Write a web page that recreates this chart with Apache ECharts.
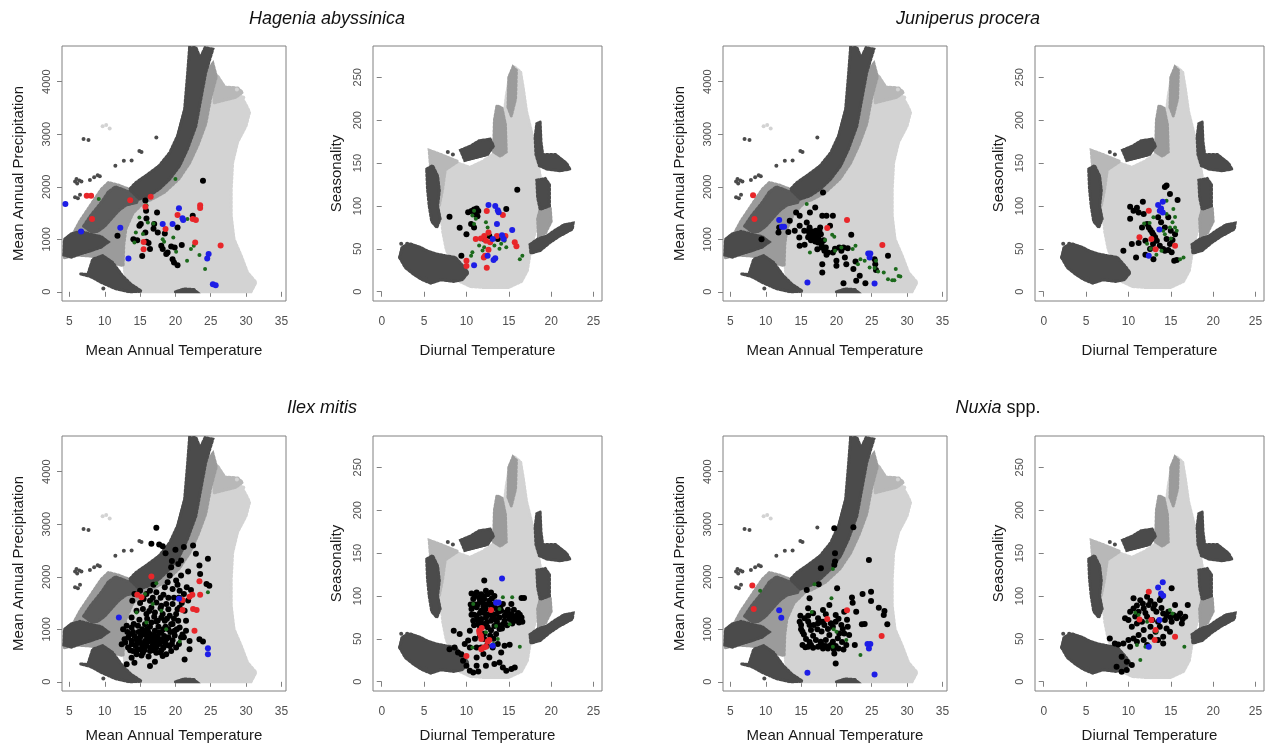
<!DOCTYPE html>
<html><head><meta charset="utf-8">
<script src="https://cdn.jsdelivr.net/npm/echarts@6/dist/echarts.min.js"></script>
<style>html,body{margin:0;padding:0;background:#fff}#c{width:1266px;height:746px}</style>
</head><body><div id="c"></div>
<script>
// ---------- tick labels ----------
const matTicks = [5,10,15,20,25,30,35];
const mapTicks = [0,1000,2000,3000,4000];
const dtrTicks = [0,5,10,15,20,25];
const seasTicks = [0,50,100,150,200,250];

// ---------- background cloud (MAT vs MAP) ----------
const bgMatLight = [[12.8,400],[13.3,0],[30.7,0],[31.4,180],[30.2,370],[29.3,690],[28.3,1000],[27.9,1450],[27.9,1950],[28.1,2460],[28.8,2850],[30.0,3160],[30.5,3420],[30.0,3560],[29.0,3800],[27.0,3880],[26.0,4100],[24.5,4300],[23.0,3000],[21.5,2340],[19.6,2020],[16.8,1890],[14.4,1770],[13.0,1390],[12.5,940]];
const bgMatMedStrip = [[15.0,1800],[17.0,1900],[19.0,2100],[20.6,2400],[21.7,2720],[22.9,3160],[23.6,3670],[24.3,4180],[25.3,4350],[25.8,4100],[25.0,3700],[24.3,3200],[23.2,2800],[22.0,2450],[20.5,2150],[18.5,1900],[16.5,1750],[15.2,1700]];
const bgMatMedTopRight = [[25.5,3600],[27.0,3650],[28.5,3700],[29.5,3800],[28.8,3880],[27.0,3900],[26.0,4100],[25.3,4000]];
const bgMatMedLeft = [[4.3,650],[4.3,950],[5.5,1100],[6.5,1350],[7.5,1550],[8.5,1750],[9.5,1950],[10.5,2080],[12.0,2030],[13.5,1950],[15.0,1870],[15.5,1700],[14.0,1500],[13.0,1200],[12.7,900],[12.6,500],[11.0,550],[9.5,640],[8.0,680],[6.0,700]];
const bgMatDarkLowLeft = [[4.2,700],[4.3,1000],[5.2,1100],[6.5,1150],[8.0,1100],[9.5,1050],[10.5,950],[9.5,850],[8.0,780],[6.5,720],[5.3,660]];
const bgMatDarkDiag = [[7.0,1250],[8.0,1450],[9.5,1700],[10.5,1900],[11.5,2000],[12.5,1950],[13.5,1900],[15.0,1850],[14.5,1700],[13.0,1650],[12.0,1550],[11.0,1400],[10.0,1250],[9.0,1150],[8.0,1150]];
const bgMatDarkArch = [[22.0,4650],[21.7,4115],[21.3,3480],[20.3,2970],[19.2,2650],[17.7,2400],[15.8,2210],[14.4,2080],[13.5,1950],[14.9,1765],[16.3,1830],[17.7,1956],[19.2,2146],[20.6,2400],[21.7,2718],[22.9,3160],[23.6,3670],[24.3,4178],[25.3,4620],[24.2,4650],[23.5,4450],[22.9,4650]];
const bgMatDarkWedge = [[6.6,340],[7.6,330],[8.3,620],[9.7,690],[11.1,560],[12.5,305],[13.7,146],[15.2,10],[13.5,0],[11.5,60],[9.5,180],[8.0,290]];
const bgMatDarkBottom = [[20.0,0],[23.0,0],[22.6,45],[21.2,55]];
const bgMatDarkDots = [[7.0,2908],[7.7,2890],[12.7,2495],[14.9,2680],[15.2,2660],[17.3,2940],[5.8,2100],[6.1,2060],[6.4,2120],[6.7,2100],[6.0,2150],[7.9,2130],[8.5,2180],[9.0,2220],[9.3,2200],[5.8,1800],[6.2,1780],[6.5,1850],[9.8,63],[11.5,2400],[13.8,2500]];
const bgMatLightDots = [[9.7,3150],[10.2,3175],[10.7,3110],[28.7,3850],[29.6,3700]];

// ---------- background cloud (Diurnal temperature vs Seasonality) ----------
const bgDtrLight = [[9.2,12],[10.5,6],[12,5],[15,5],[16.5,12],[17.2,25],[17.6,50],[18.2,73],[18.6,104],[18.7,135],[18.3,160],[17.8,182],[17.1,210],[16.7,238],[16.4,256],[15.7,262],[15.1,252],[14.7,228],[14.3,195],[14.0,165],[13.1,160],[11.9,152],[10.4,145],[9.0,150],[8.0,155],[6.8,155],[5.8,162],[6.2,143],[6.6,118],[7.0,90],[7.2,70],[7.6,50],[8.4,28]];
const bgDtrMedSpike = [[13.2,163],[13.3,200],[13.6,217],[14.2,214],[14.6,195],[14.7,163],[14.0,158]];
const bgDtrMedTop = [[14.9,215],[15.0,250],[15.5,262],[15.9,258],[15.8,225],[15.3,205]];
const bgDtrMedRight = [[18.5,65],[19.3,68],[20.0,82],[19.9,97],[18.8,100],[18.4,85]];
const bgDtrMedLeft = [[5.6,165],[7.0,160],[9.0,152],[7.5,142],[7.2,120],[6.8,100],[6.2,110],[5.8,140]];
const bgDtrDarkFan = [[2.1,40],[2.4,52],[3.3,56],[4.5,52],[5.5,47],[6.5,44],[7.5,42],[8.7,40],[9.6,30],[10.2,22],[9.5,14],[8.5,12],[7.0,14],[5.8,10],[4.8,14],[3.8,20],[2.8,28]];
const bgDtrDarkLeft = [[5.3,143],[6.0,147],[6.6,135],[6.8,118],[6.6,100],[6.9,85],[6.5,75],[5.9,82],[5.6,100],[5.4,120]];
const bgDtrDarkTopLeft = [[9.3,165],[10.5,170],[11.5,176],[12.8,178],[13.2,170],[12.5,160],[11.0,156],[9.8,153]];
const bgDtrDarkTopRight = [[18.3,196],[18.7,198],[18.8,175],[19.0,160],[20.5,160],[21.8,150],[22.2,143],[21.0,141],[19.5,143],[18.6,147],[18.2,160],[18.1,180]];
const bgDtrDarkRightMid = [[18.3,130],[19.3,132],[19.8,125],[19.8,100],[18.7,96],[18.4,110]];
const bgDtrDarkRightLow = [[17.5,55],[18.5,62],[19.5,65],[20.5,72],[21.5,78],[22.6,80],[22.5,73],[21.0,65],[19.8,57],[18.7,48],[17.6,45]];
const bgDtrDarkDots = [[2.3,56],[3.0,56],[2.2,40],[5.2,15],[8.4,160],[7.8,163]];

// ---------- Hagenia abyssinica ----------
const hagMatBlack = [[15.75,1740],[17.4,1510],[15.85,1543],[15.9,1397],[14.9,1257],[11.8,1067],[14.05,1003],[14.6,984],[15.1,1290],[15.75,1130],[15.9,952],[16.2,927],[16.4,813],[17.5,1130],[17,1290],[18,876],[18.2,813],[18.7,718],[19.4,864],[19.9,845],[19.6,622],[19.8,559],[20.3,508],[20.3,1225],[20.9,889],[22.45,1448],[15.3,680],[23.9,2115],[18.9,750],[16.9,1200],[18.5,1110]];
const hagMatRed = [[7.45,1830],[8.07,1830],[8.2,1385],[13.6,1745],[16.5,1810],[15.75,1620],[15.5,950],[15.5,810],[18.6,1195],[20.3,1460],[22.45,1385],[22.9,1365],[23.5,1650],[23.5,1595],[22.8,940],[26.4,883]];
const hagMatBlue = [[4.43,1670],[6.65,1150],[12.2,1220],[13.35,635],[18.2,1290],[19.6,1290],[20.5,1590],[21,1400],[21.1,1365],[24.7,718],[24.5,635],[25.3,146],[25.7,127]];
const hagMatGreen = [[9.15,1765],[14.9,1416],[15.9,1650],[16.1,1320],[16.9,1300],[14.4,1130],[15.4,1100],[20,2146],[18.2,1003],[19.7,1035],[20.1,762],[21.65,590],[22.2,813],[22.6,876],[23.4,700],[24.2,432],[18.4,952],[21.7,1384],[14.2,940]];
const hagDtrBlack = [[16,119],[8,87.5],[9.2,74.7],[10,67],[9.4,42],[10.2,92.6],[10.55,79],[10.9,75],[10.6,94],[10.9,96],[11.2,97],[11.4,94],[14.7,96.5],[13.7,61.5],[12.7,65],[12.1,61.5],[11.0,90],[11.3,88]];
const hagDtrRed = [[12.4,94],[14.3,89.5],[11.1,61.5],[11.7,62],[12.1,65],[12.3,59.5],[12.6,69],[12.8,57.6],[13.6,65],[14.6,65],[15.7,57.6],[15.9,53],[12.6,49],[12.2,42],[12.05,40],[10,36],[10,30],[12.4,28]];
const hagDtrBlue = [[12.6,101],[13.4,100],[13.7,95],[13.8,92.6],[13.6,79],[14.2,66],[14.4,61.5],[15.4,72],[13.1,61.5],[13.4,39],[13.2,37],[10.9,31],[12.5,42]];
const hagDtrGreen = [[12.3,81],[12.5,75],[12.5,67],[10.9,94.5],[10.7,89],[11.1,85],[10.9,79],[10.55,42],[10.7,46],[11.5,54],[11.9,48],[12.7,57.6],[13.3,54],[13.9,50],[14.1,56],[14.7,52],[14.5,59.5],[16.3,38],[16.6,42],[12.1,52]];

// ---------- Juniperus procera ----------
const junMatBlack = [[11.9,1225],[11.8,1130],[13.4,1352],[14.3,1511],[14.8,1448],[14.8,1257],[14.75,1035],[14.8,876],[15.45,1162],[15.8,1321],[16.2,1225],[16.2,1098],[16.5,1048],[16.7,1098],[16.8,1003],[17,1606],[17.1,1162],[17.2,1048],[17.4,940],[17.7,1225],[17.8,1098],[17.9,845],[18,1448],[18.1,1892],[18.3,781],[18.5,845],[18.6,705],[18.8,750],[18,527],[18,368],[18.6,1448],[19.1,1257],[19.5,1448],[19.5,750],[20,591],[20,495],[20.4,845],[20.7,781],[21,845],[21.2,654],[21.4,527],[21,165],[22.1,1086],[22.4,432],[22.7,578],[22.8,210],[23.3,305],[24.1,165],[25.4,622],[25.5,527],[25.6,413],[27.3,686],[15.5,895],[17.9,908],[17.3,810],[14.1,1162],[16.25,1511],[16.4,980],[16.9,1060],[17.5,1000],[16.0,1040],[17.0,960],[9.4,1003],[13.2,1140],[19.8,820],[21.6,830],[16.6,1150],[17.3,1110],[16.0,1160],[16.9,1010],[17.6,1160],[18.2,980]];
const junMatRed = [[8.2,1840],[8.4,1385],[18.7,1213],[21.5,1365],[26.5,889]];
const junMatBlue = [[11.9,1365],[12.3,1238],[12.6,1238],[15.9,178],[24.5,730],[24.8,730],[24.7,654],[25.4,159]];
const junMatGreen = [[15.8,1670],[16.25,750],[18.4,985],[19.4,1086],[19.7,1048],[19.8,781],[20.7,845],[22.3,813],[22.7,876],[23.05,527],[24,591],[24.7,464],[25.4,451],[25.9,387],[26.7,368],[27.3,241],[27.9,222],[28.2,222],[28.4,432],[29.05,292],[28.8,300],[23.4,622],[25.6,591]];
const junDtrBlack = [[14.3,122],[14.5,124],[14.9,114],[15.8,107],[11.7,105],[10.2,99],[10.6,94.5],[11,98],[11.2,92.5],[10.2,85],[11.8,90.6],[12.2,79],[12.4,75],[12.6,72],[12.8,69],[12.95,66.5],[13.15,63.4],[13.35,59.5],[12.9,55.6],[13.7,53.7],[14.1,49.8],[14.3,47.8],[14.7,48.6],[15.1,45.9],[15.4,36.2],[15.7,37],[12.55,49.8],[9.4,47.8],[10.9,40],[12,43],[12.95,38],[12,59.5],[11.2,56.8],[14.5,61.4],[14.9,55.6],[14.3,75],[13.85,81],[13.5,86.7],[14.7,86.7],[15,71],[15.5,67],[15.2,60.3],[10.4,55.6],[11.6,75]];
const junDtrRed = [[12.4,94.5],[11.3,63.4],[12.7,61.4],[13.2,49.4],[15.5,53.7]];
const junDtrBlue = [[13.5,101],[14.05,105],[13.7,94.5],[14.05,92.5],[13.85,97],[13.65,72.7],[12.4,42]];
const junDtrGreen = [[14.5,106],[15.3,96.4],[12.95,86.7],[14.5,90.6],[11.85,79.7],[12.5,80],[14.1,71],[14.9,75],[15.2,81],[15.5,75],[15.7,71],[14.3,67],[15.0,62],[13.9,47.8],[13.3,43],[12.2,56],[16.5,40],[16.1,38],[12.6,50],[15.5,87]];

// ---------- Ilex mitis ----------
const ilexMatBlack = [[17.3,2935],[16.6,2630],[17.7,2615],[18.2,2580],[20,2514],[21.2,2565],[22.5,2597],[22.9,2437],[23.4,2214],[24.6,2341],[23.5,2054],[24.4,1863],[24.8,1830],[20.4,2245],[20.8,2310],[19.4,2182],[19.2,2022],[20.8,2022],[20.1,1927],[18.9,1895],[18.5,1800],[19.6,1767],[20.6,1735],[21.2,1672],[18.3,1659],[17.3,1704],[16.4,1735],[15.9,1672],[15.5,1576],[15,1735],[14.2,1672],[13.9,1544],[16.4,1544],[17.3,1512],[18,1448],[18.7,1480],[19.6,1480],[20.6,1416],[16.6,1416],[15.4,1384],[14.5,1352],[13.8,1225],[15.9,1289],[17.1,1320],[18.2,1289],[19.2,1257],[20.1,1289],[21.3,1352],[21.5,1161],[20.4,1161],[19.4,1097],[18.5,1161],[17.5,1161],[16.6,1129],[15.7,1097],[14.7,1065],[13.8,1034],[13.1,1065],[12.6,1002],[20.6,1034],[21.5,970],[19.9,970],[19,1002],[18,938],[17.1,970],[16.2,938],[15.2,906],[14.2,874],[13.3,842],[13.8,715],[14.7,746],[15.7,778],[16.6,810],[17.5,791],[18.7,810],[19.6,791],[20.8,842],[22,778],[23.4,810],[23.9,766],[22,619],[21.3,427],[18.2,491],[17.3,555],[16.4,587],[15.4,555],[14.5,523],[13.8,459],[13.1,332],[14.2,364],[16.4,300],[17.1,383],[18.7,523],[19.4,587],[20.1,651],[17.3,651],[15.9,683],[15,619],[14,587],[13.3,651],[12.4,715],[12.8,810],[14.8,820],[15.3,700],[16.1,760],[16.8,700],[17.8,720],[18.3,650],[15.6,640],[14.4,680],[16.2,850],[17.0,880],[18.4,870],[19.2,680],[20.5,720],[21.0,900],[16.0,1000],[17.6,1050],[18.6,1050],[19.8,1200],[20.9,1500],[19.0,1600],[17.9,1600],[16.9,1850],[20.3,1850],[21.8,2100],[22.2,1750],[13.5,900],[14.0,950],[14.5,800],[15.0,850],[15.5,900],[16.0,850],[16.5,900],[17.0,820],[17.5,870],[18.0,800],[18.5,750],[19.0,850],[13.8,780],[14.3,700],[15.0,750],[15.8,720],[16.5,650],[17.2,720],[18.0,600],[18.8,700],[19.5,720],[14.6,600],[15.6,600],[16.9,600],[17.9,560],[15.2,500],[16.2,480],[13.6,600],[14.1,1100],[15.3,1000],[16.4,1050],[17.3,1150],[18.8,1200],[19.6,1100],[20.2,1000],[21.2,850],[19.9,880],[13.2,950],[12.9,750],[20.5,1600],[21.6,1800],[19.5,2300],[18.6,2450],[14.8,950],[15.8,940],[16.8,760],[17.7,940],[18.3,1000],[19.3,950],[14.9,1180],[16.0,1200],[17.0,1240],[18.0,1220],[19.0,1380],[17.9,1400],[16.3,1350],[15.0,1500],[16.8,1600],[19.8,1600],[21.8,1550],[20.3,1380]];
const ilexMatRed = [[16.6,2003],[14.6,1659],[15.2,1608],[21,1557],[22,1620],[22.4,1659],[23.4,1914],[23.5,1659],[21,1365],[22.5,1384],[23,1365],[22.7,970]];
const ilexMatBlue = [[12,1225],[20.5,1582],[24.6,638],[24.6,523]];
const ilexMatGreen = [[15.7,1672],[17.3,1876],[14.5,1320],[15.9,1129],[16.8,1480],[18,1352],[18.7,1002],[24.6,1704],[20.6,766]];
const ilexDtrBlack = [[10.6,103],[11.2,104],[11.75,102],[12.3,106],[12.9,104],[13.3,100],[10.8,96.4],[11.6,94.5],[12.1,96.4],[12.7,94.5],[13.5,92.5],[14.3,90.6],[15.3,90.6],[16.5,97.6],[10.6,84.8],[11.2,86.7],[11.75,82.8],[12.3,84.8],[12.9,80.9],[13.5,78.9],[14.1,82.8],[14.7,80.9],[15.3,78.9],[15.9,77],[16.5,75],[13.9,75],[14.5,71],[15.1,73],[15.7,71],[16.2,69],[11.2,77],[11.75,73],[12.3,75],[12.9,71],[10.8,71],[11.4,67],[12,65],[12.5,63.4],[13.3,65],[13.9,61.4],[14.3,67],[8.5,59.5],[9.2,55.6],[10.4,59.5],[9.8,44],[10.4,40],[11.2,40],[11.75,40],[12.4,42],[13.1,40],[13.7,44],[14.5,42],[15.1,43],[12.1,49.8],[11.6,53.7],[12.8,53.7],[13.5,55.6],[8.6,40],[9,34],[8,38],[9.4,32],[9.6,24.5],[10,18.7],[10.4,12.8],[10.8,10.9],[11.4,12],[12.3,18.7],[13.3,20.6],[13.9,22.5],[14.3,16.7],[14.7,12.8],[15.3,14.8],[15.7,16.7],[12.7,28.4],[11.2,28.4],[12,32.3],[14.1,34.2],[11.2,18.7],[12.1,118],[16.8,97.6],[11.0,90],[12.0,88],[13.0,87],[14.0,86],[12.5,78],[13.3,73],[11.6,62],[10.9,78],[15.6,84],[16.1,80],[11.0,100],[11.5,98],[12.0,100],[12.5,102],[13.0,97],[11.3,90],[11.9,92],[12.4,90],[12.9,90],[13.4,86],[13.8,82],[14.5,77],[15.0,76],[15.6,76],[16.0,73],[16.6,70],[15.4,68],[14.8,66],[14.2,62],[12.4,69],[11.8,68],[11.3,72],[12.7,78],[13.6,70],[10.6,78],[10.5,90],[12.9,60],[12.1,56],[13.2,50],[11.0,50],[10.2,48],[11.6,80],[12.1,80],[13.1,76],[14.9,84],[16.3,78],[10.9,66],[13.7,66]];
const ilexDtrRed = [[12.9,83.6],[11.5,59.5],[11.55,56.4],[11.7,53.7],[11.75,49.8],[11.8,62.6],[12.7,48.6],[12.5,47],[12.05,40],[12.3,40.8],[11.75,38],[10,30]];
const ilexDtrBlue = [[14.2,120.5],[13.8,92.5],[13.5,92],[13.1,42]];
const ilexDtrGreen = [[15.4,98.4],[14.3,98.4],[10.8,90.6],[13.5,65],[12.3,57.6],[13.7,49.8],[10.7,40],[13.2,44],[16.3,40.8],[15.1,67],[13.9,84.8]];

// ---------- Nuxia spp. ----------
const nuxMatBlack = [[14.8,1145],[15,1081],[15.5,1208],[16,1260],[16.7,1304],[17.4,1208],[17.8,1145],[18.3,1081],[18.8,1005],[19,890],[18.5,795],[17.8,763],[17.1,795],[16.7,878],[16.4,986],[16.8,1081],[17.4,1113],[18.1,1145],[19.2,1113],[19.9,1145],[20.7,1081],[20.9,1005],[20.4,922],[20.2,827],[19.5,763],[15.2,700],[16,668],[16.7,649],[17.4,668],[18.1,636],[18.8,636],[19.6,623],[20.3,636],[21,617],[21.4,700],[15.7,814],[15.2,954],[16.2,1081],[19.7,541],[19.9,350],[21.1,922],[21.8,890],[21.6,1049],[15.8,1749],[16.2,1590],[17.5,1857],[17.8,2162],[19.7,2226],[19.8,2290],[19.8,2449],[19.7,2926],[22.4,2945],[24.6,2321],[24.9,1717],[23.7,1673],[22.2,1603],[22.3,1507],[21.1,1336],[24.9,1539],[23.6,1094],[24,1100],[26,1412],[26.8,1348],[26.7,1272],[27.2,1094],[20.1,1781],[19,1463],[18.5,1285],[18.1,1367],[16,1399],[19.9,1272],[22.8,1336],[15.0,1000],[17.9,960],[18.0,700],[19.2,700],[20.8,760],[16.2,760],[17.3,1000],[21.5,1180],[14.9,1260],[22.6,700],[15.6,660],[16.4,700],[17.7,690],[18.5,680],[19.9,680],[15.4,900],[16.0,1150],[19.5,1050],[20.3,1200]];
const nuxMatRed = [[8.1,1832],[8.3,1386],[18.7,1196],[21.5,1361],[26.4,871]];
const nuxMatBlue = [[11.9,1361],[12.2,1221],[15.9,172],[24.4,719],[24.8,719],[24.6,636],[25.4,140]];
const nuxMatGreen = [[9.2,1736],[16.9,1857],[19.5,2150],[19.3,1590],[20,954],[21.4,795],[23.4,509],[19.5,668],[16.5,1330],[19.6,1000]];
const nuxDtrBlack = [[15.1,108.9],[13.9,99],[12.2,99],[11.4,95],[11,89],[10.6,85.5],[10.2,81.6],[9.6,73.9],[10,72],[11.2,81.6],[11.8,85.5],[12.4,89.4],[12.95,85.5],[13.3,81.6],[14.1,79.7],[14.7,81.6],[15.3,77.8],[15.7,73.9],[16.1,79.7],[16.7,75.8],[17,89.4],[16.3,68],[15.1,70],[14.3,72],[13.5,70],[12.8,72],[12.2,75.8],[11.6,70],[11,68],[10.4,64],[12.6,64],[13.2,58.3],[13.7,64],[14.5,62.2],[14.9,58.3],[11.8,60.3],[11.2,54.4],[10.6,50.5],[10,48.6],[9.4,44.7],[8.8,43.5],[8.4,44.7],[7.8,50.5],[10.2,40.8],[11,46.6],[11.8,48.6],[12.6,52.5],[13.5,48.6],[14.1,52.5],[9.2,29.2],[9.8,23.3],[10.4,19.4],[8.6,17.5],[9.2,11.7],[9.8,13.6],[12.2,42.8],[14.1,44.7],[10.6,97.2],[13.7,95.3],[15.5,89.4],[11.7,91],[12.6,94],[13.1,90],[14.5,77],[15.0,75],[15.9,77],[16.4,73],[12.0,80],[10.8,76],[13.9,86]];
const nuxDtrRed = [[12.4,105],[11.3,72.7],[12.7,72],[13.2,60.3],[15.5,52.5],[13.1,48.6]];
const nuxDtrBlue = [[13.5,110],[14.05,115.9],[13.85,103],[14.1,100.3],[13.65,72],[12.4,40.8]];
const nuxDtrGreen = [[10.8,80.5],[11.2,77.8],[12.2,70],[14.9,83.6],[15.2,79.7],[11,42.8],[12,40.8],[11.4,25.3],[16.6,40.8],[13.3,58.3]];

// ---------- layout / styling ----------
const FONT = '"Liberation Sans", Arial, Helvetica, sans-serif';
const C_LIGHT = '#d3d3d3', C_MED = '#9b9b9b', C_MEDLIGHT = '#b8b8b8', C_DARK = '#4b4b4b';
const C_BLACK = '#000000', C_RED = '#e8262a', C_BLUE = '#1e1ee6', C_GREEN = '#1c6a1c';
const AXIS_COL = '#808080', LABEL_COL = '#505050';

const panels = [
  {kind:'mat', left:62,   top:46,  sp:[hagMatBlack,hagMatGreen,hagMatRed,hagMatBlue]},
  {kind:'dtr', left:373,  top:46,  sp:[hagDtrBlack,hagDtrGreen,hagDtrRed,hagDtrBlue]},
  {kind:'mat', left:723,  top:46,  sp:[junMatBlack,junMatGreen,junMatRed,junMatBlue]},
  {kind:'dtr', left:1035, top:46,  sp:[junDtrBlack,junDtrGreen,junDtrRed,junDtrBlue]},
  {kind:'mat', left:62,   top:436, sp:[ilexMatBlack,ilexMatGreen,ilexMatRed,ilexMatBlue]},
  {kind:'dtr', left:373,  top:436, sp:[ilexDtrBlack,ilexDtrGreen,ilexDtrRed,ilexDtrBlue]},
  {kind:'mat', left:723,  top:436, sp:[nuxMatBlack,nuxMatGreen,nuxMatRed,nuxMatBlue]},
  {kind:'dtr', left:1035, top:436, sp:[nuxDtrBlack,nuxDtrGreen,nuxDtrRed,nuxDtrBlue]}
];

const bgMat = [[bgMatLight,C_LIGHT],[bgMatMedTopRight,C_MEDLIGHT],[bgMatMedStrip,C_MED],[bgMatMedLeft,C_MED],[bgMatDarkLowLeft,C_DARK],[bgMatDarkDiag,'#5a5a5a'],[bgMatDarkArch,C_DARK],[bgMatDarkWedge,C_DARK],[bgMatDarkBottom,C_DARK]];
const bgDtr = [[bgDtrLight,C_LIGHT],[bgDtrMedSpike,C_MED],[bgDtrMedTop,C_MED],[bgDtrMedRight,C_MED],[bgDtrMedLeft,C_MEDLIGHT],[bgDtrDarkFan,C_DARK],[bgDtrDarkLeft,C_DARK],[bgDtrDarkTopLeft,C_DARK],[bgDtrDarkTopRight,C_DARK],[bgDtrDarkRightMid,C_DARK],[bgDtrDarkRightLow,C_DARK]];

// polygons get a dotted edge so they read like dense point clouds
function polySeries(pts, color, gi) {
  return {type:'custom', xAxisIndex:gi, yAxisIndex:gi, silent:true, animation:false, data:pts, z:1,
    renderItem: function(params, api){
      if (params.dataIndex !== 0) return null;
      return {type:'polygon', shape:{points: pts.map(p => api.coord(p))},
        style:{fill:color, stroke:color, lineWidth:3, lineDash:[2,2], lineCap:'round'}};
    }};
}
function dotSeries(pts, color, size, gi, z) {
  return {type:'scatter', xAxisIndex:gi, yAxisIndex:gi, silent:true, animation:false, data:pts, z:z,
    symbol:'circle', symbolSize:size, itemStyle:{color:color, opacity:1}};
}

const grids=[], xAxes=[], yAxes=[], series=[];
panels.forEach((p, i) => {
  const mat = p.kind === 'mat';
  const bottomRow = p.top > 200;
  grids.push({left:p.left, top:p.top, width: mat ? 224 : 229, height:255, show:true, borderColor:AXIS_COL, borderWidth:1, backgroundColor:'transparent', containLabel:false});
  xAxes.push({gridIndex:i, type:'value', min: mat ? 3.95 : -1.03, max: mat ? 35.65 : 26.0,
    axisLine:{show:false}, splitLine:{show:false},
    axisTick:{show:true, length:5, lineStyle:{color:AXIS_COL}, customValues: mat ? matTicks : dtrTicks},
    axisLabel:{color:LABEL_COL, fontSize:12, fontFamily:FONT, margin:15, customValues: mat ? matTicks : dtrTicks, formatter: v => String(v)},
    name: mat ? 'Mean Annual Temperature' : 'Diurnal Temperature', nameLocation:'middle',
    nameGap: bottomRow ? 37 : 42, nameTextStyle:{fontSize:15, color:'#1a1a1a', fontFamily:FONT}});
  yAxes.push({gridIndex:i, type:'value', min: mat ? -175 : -10.8, max: mat ? 4680 : 286.5,
    axisLine:{show:false}, splitLine:{show:false},
    axisTick:{show:true, length:5, lineStyle:{color:AXIS_COL}, customValues: mat ? mapTicks : seasTicks},
    axisLabel:{color:LABEL_COL, fontSize:11, fontFamily:FONT, margin:10, rotate:90, customValues: mat ? mapTicks : seasTicks, formatter: v => String(v)},
    name: mat ? 'Mean Annual Precipitation' : 'Seasonality', nameLocation:'middle',
    nameGap: mat ? 36 : 29, nameTextStyle:{fontSize:15, color:'#1a1a1a', fontFamily:FONT}});
  (mat ? bgMat : bgDtr).forEach(b => series.push(polySeries(b[0], b[1], i)));
  if (mat) {
    series.push(dotSeries(bgMatDarkDots, C_DARK, 4, i, 2));
    series.push(dotSeries(bgMatLightDots, C_LIGHT, 4, i, 2));
  } else {
    series.push(dotSeries(bgDtrDarkDots, C_DARK, 4, i, 2));
  }
  const cols = [C_BLACK, C_GREEN, C_RED, C_BLUE];
  const sizes = [6, 4, 6, 6];
  p.sp.forEach((d, k) => series.push(dotSeries(d, cols[k], sizes[k], i, 3 + k)));
});

const titleFont = {fontSize:18, fontFamily:FONT, fill:'#111', textAlign:'center', textVerticalAlign:'middle'};
const graphics = [
  {type:'text', x:327, y:19, style:Object.assign({text:'Hagenia abyssinica', fontStyle:'italic'}, titleFont)},
  {type:'text', x:968, y:19, style:Object.assign({text:'Juniperus procera', fontStyle:'italic'}, titleFont)},
  {type:'text', x:322, y:408, style:Object.assign({text:'Ilex mitis', fontStyle:'italic'}, titleFont)},
  {type:'text', x:998, y:408, style:Object.assign({text:'{i|Nuxia} spp.', rich:{i:{fontStyle:'italic', fontSize:18, fontFamily:FONT, fill:'#111'}}}, titleFont)}
];

const chart = echarts.init(document.getElementById('c'), null, {renderer:'canvas'});
chart.setOption({backgroundColor:'#ffffff', animation:false, grid:grids, xAxis:xAxes, yAxis:yAxes, series:series, graphic:graphics});
</script>
</body></html>
